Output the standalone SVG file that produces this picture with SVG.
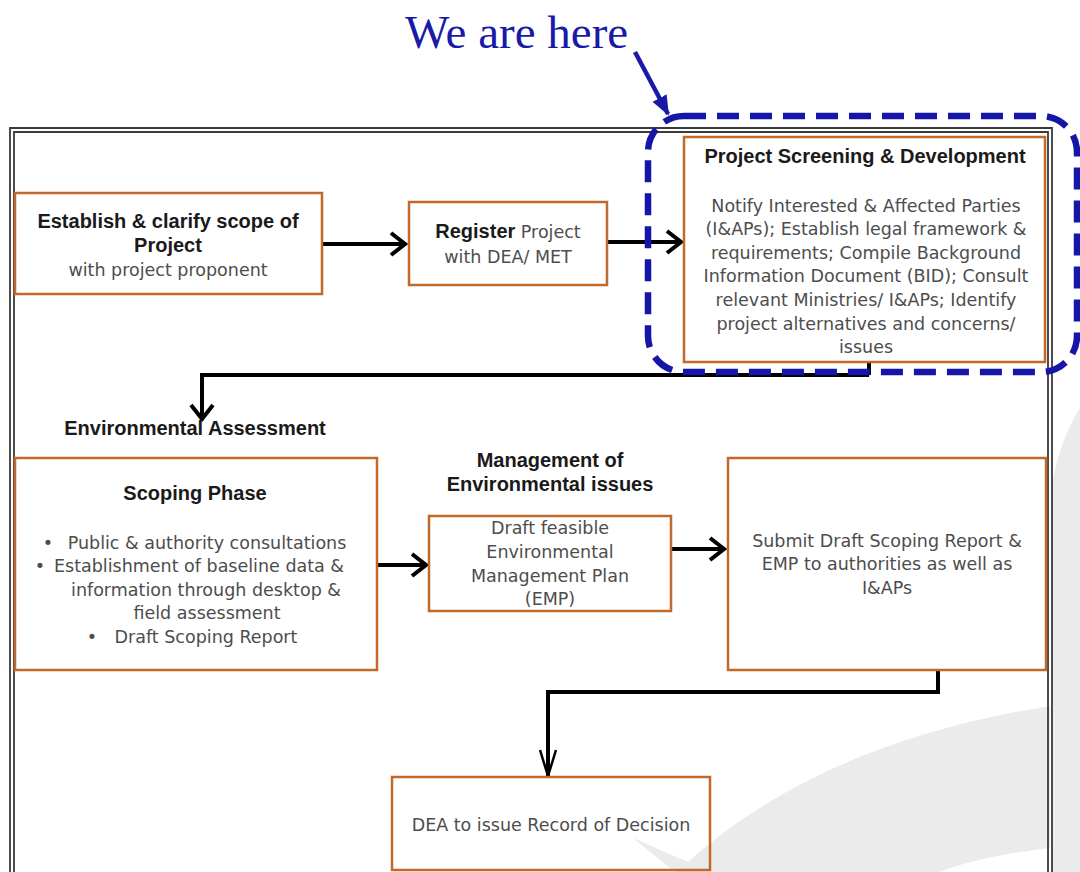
<svg xmlns="http://www.w3.org/2000/svg" width="1080" height="872" viewBox="0 0 1080 872">
<style>
.box{fill:none;stroke:#c0692b;stroke-width:2.5}
.bt{font-family:"Liberation Sans",Arial,sans-serif;font-weight:bold;font-size:20px;fill:#1a1a1a;text-anchor:middle}
.tx{font-family:"DejaVu Sans","Liberation Sans",sans-serif;font-size:17.5px;fill:#4d4d4d;text-anchor:middle}
.ln{fill:none;stroke:#000;stroke-width:4}
.frame{fill:none;stroke:#3a3a3a;stroke-width:1.8}
</style>
<defs>
<marker id="chev" markerUnits="userSpaceOnUse" markerWidth="22" markerHeight="26" viewBox="0 0 22 26" refX="19" refY="13" orient="auto">
<path d="M5 2 L19 13 L5 24" fill="none" stroke="#000" stroke-width="4"/>
</marker>
<marker id="chevThin" markerUnits="userSpaceOnUse" markerWidth="30" markerHeight="20" viewBox="0 0 30 20" refX="28" refY="10" orient="auto">
<path d="M2 2 L28 10 L2 18" fill="none" stroke="#000" stroke-width="2.5"/>
</marker>
<marker id="tri" markerUnits="userSpaceOnUse" markerWidth="20" markerHeight="16" viewBox="0 0 20 16" refX="18" refY="8" orient="auto">
<path d="M0 0 L20 8 L0 16 Z" fill="#1a1aa8"/>
</marker>
</defs>
<rect width="1080" height="872" fill="#fff"/>
<g id="background">
<path d="M1053 480 Q1060 440 1080 408 L1080 872 L1053 872 Z" fill="#ebebeb"/>
<path d="M633 838 L688 862 C780 780 900 730 1050 706 L1050 848 Q980 856 940 872 L675 872 Z" fill="#ebebeb"/>
</g>
<g id="frame">
<path class="frame" d="M10 880 L10 128 L1052 128 L1052 880"/>
<path class="frame" d="M14 880 L14 132 L1048 132 L1048 880"/>
</g>
<g id="connectors">
<line class="ln" x1="322" y1="244" x2="405" y2="244" marker-end="url(#chev)"/>
<line class="ln" x1="607" y1="242" x2="681" y2="242" marker-end="url(#chev)"/>
<path class="ln" d="M869 362 L869 375" stroke-width="2.5"/>
<path class="ln" d="M869 375 L202 375"/>
<line class="ln" x1="202" y1="373" x2="202" y2="419" stroke-width="3.5" marker-end="url(#chev)"/>
<line class="ln" x1="377" y1="565" x2="426" y2="565" marker-end="url(#chev)"/>
<line class="ln" x1="671" y1="549" x2="724" y2="549" marker-end="url(#chev)"/>
<path class="ln" d="M938 670 L938 694"/>
<path class="ln" d="M940 692 L546 692" stroke-width="7"/>
<line class="ln" x1="548" y1="690" x2="548" y2="776" stroke-width="2.5" marker-end="url(#chevThin)"/>
</g>
<g id="n1">
<rect class="box" x="15" y="193" width="307" height="101"/>
<text class="bt" x="168" y="228">Establish &amp; clarify scope of</text>
<text class="bt" x="168" y="252">Project</text>
<text class="tx" x="168" y="276">with project proponent</text>
</g>
<g id="n2">
<rect class="box" x="409" y="202" width="198" height="83"/>
<text class="tx" x="508" y="238"><tspan font-family="Liberation Sans, Arial, sans-serif" font-weight="bold" font-size="20" fill="#1a1a1a">Register</tspan> Project</text>
<text class="tx" x="508" y="263">with DEA/ MET</text>
</g>
<g id="n3">
<rect class="box" x="684" y="137" width="361" height="225"/>
<text class="bt" x="865" y="163">Project Screening &amp; Development</text>
<text class="tx" x="866" y="212">Notify Interested &amp; Affected Parties</text>
<text class="tx" x="866" y="235">(I&amp;APs); Establish legal framework  &amp;</text>
<text class="tx" x="866" y="259">requirements; Compile Background</text>
<text class="tx" x="866" y="282">Information Document (BID); Consult</text>
<text class="tx" x="866" y="306">relevant Ministries/  I&amp;APs; Identify</text>
<text class="tx" x="866" y="330">project  alternatives and concerns/</text>
<text class="tx" x="866" y="353">issues</text>
</g>
<g id="label-ea">
<text class="bt" x="195" y="435">Environmental Assessment</text>
</g>
<g id="n4">
<rect class="box" x="15" y="458" width="362" height="212"/>
<text class="bt" x="195" y="500">Scoping Phase</text>
<text class="tx" x="48" y="549">•</text>
<text class="tx" x="207" y="549">Public &amp; authority consultations</text>
<text class="tx" x="40" y="572">•</text>
<text class="tx" x="199" y="572">Establishment of baseline data &amp;</text>
<text class="tx" x="206" y="596">information through desktop &amp;</text>
<text class="tx" x="207" y="619">field assessment</text>
<text class="tx" x="92" y="643">•</text>
<text class="tx" x="206" y="643">Draft Scoping Report</text>
</g>
<g id="label-mgmt">
<text class="bt" x="550" y="467">Management of</text>
<text class="bt" x="550" y="491">Environmental issues</text>
</g>
<g id="n5">
<rect class="box" x="429" y="516" width="242" height="95"/>
<text class="tx" x="550" y="534">Draft feasible</text>
<text class="tx" x="550" y="558">Environmental</text>
<text class="tx" x="550" y="582">Management Plan</text>
<text class="tx" x="550" y="605">(EMP)</text>
</g>
<g id="n6">
<rect class="box" x="728" y="458" width="318" height="212"/>
<text class="tx" x="887" y="547">Submit Draft Scoping Report  &amp;</text>
<text class="tx" x="887" y="570">EMP to authorities as well as</text>
<text class="tx" x="887" y="594">I&amp;APs</text>
</g>
<g id="n7">
<rect class="box" x="392" y="777" width="318" height="93"/>
<text class="tx" x="551" y="831">DEA to issue Record of Decision</text>
</g>
<g id="highlight">
<rect x="648" y="116" width="429" height="256" rx="36" fill="none" stroke="#1515a8" stroke-width="6.5" stroke-dasharray="22 11"/>
<text x="405" y="48" font-family="Liberation Serif,serif" font-size="47" fill="#1a1aa8">We are here</text>
<line x1="635" y1="52" x2="668" y2="114" stroke="#1a1aa8" stroke-width="4.5" marker-end="url(#tri)"/>
</g>
</svg>
